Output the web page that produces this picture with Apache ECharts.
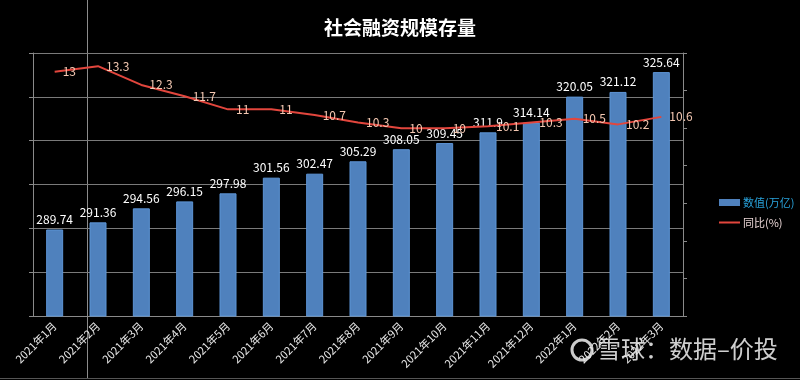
<!DOCTYPE html>
<html>
<head>
<meta charset="utf-8">
<script src="https://cdn.jsdelivr.net/npm/echarts@6/dist/echarts.min.js"></script>
<style>html,body{margin:0;padding:0;background:#000;}#c{width:800px;height:380px;}</style>
</head>
<body>
<div id="c"></div>
<script>
const categories = ['2021年1月','2021年2月','2021年3月','2021年4月','2021年5月','2021年6月','2021年7月','2021年8月','2021年9月','2021年10月','2021年11月','2021年12月','2022年1月','2022年2月','2022年3月'];
const stockValues = [289.74, 291.36, 294.56, 296.15, 297.98, 301.56, 302.47, 305.29, 308.05, 309.45, 311.9, 314.14, 320.05, 321.12, 325.64];
const yoyValues = [13, 13.3, 12.3, 11.7, 11, 11, 10.7, 10.3, 10, 10, 10.1, 10.3, 10.5, 10.2, 10.6];

const FONT = '"Noto Sans CJK SC", "Noto Sans", sans-serif';
const chart = echarts.init(document.getElementById('c'));
chart.setOption({
  backgroundColor: '#000',
  animation: false,
  textStyle: { fontFamily: FONT },
  title: {
    text: '社会融资规模存量', left: 'center', top: 13,
    textStyle: { color: '#fff', fontSize: 19, fontWeight: 'bold', fontFamily: FONT }
  },
  grid: { left: 33, right: 117, top: 53, bottom: 64 },
  legend: [
    { data: ['数值(万亿)'], orient: 'vertical', left: 714, top: 192, itemWidth: 21, itemHeight: 7, icon: 'rect', itemGap: 4,
      itemStyle: { borderWidth: 0 },
      textStyle: { color: '#29a3dc', fontSize: 11, fontFamily: FONT, padding: [0, 0, 0, -2] } },
    { data: ['同比(%)'], orient: 'vertical', left: 714, top: 212, itemWidth: 21, itemHeight: 2, icon: 'rect',
      textStyle: { color: '#ead6d6', fontSize: 11, fontFamily: FONT, padding: [0, 0, 0, -2] } }
  ],
  xAxis: {
    type: 'category', data: categories,
    axisLine: { lineStyle: { color: '#8a8a8a' } },
    axisTick: { length: 5, lineStyle: { color: '#8a8a8a' } },
    axisLabel: { rotate: 45, color: '#e8e8e8', fontSize: 11, margin: 8, interval: 0 }
  },
  yAxis: [
    { type: 'value', min: 270, max: 330, interval: 10,
      axisLine: { show: true, lineStyle: { color: '#8a8a8a' } },
      axisTick: { show: true, length: 4, lineStyle: { color: '#8a8a8a' } },
      axisLabel: { show: false },
      splitLine: { lineStyle: { color: '#7a7a7a' } } },
    { type: 'value', min: 0, max: 14, interval: 2, position: 'right',
      axisLine: { show: true, lineStyle: { color: '#8a8a8a' } },
      axisTick: { show: true, length: 4, lineStyle: { color: '#8a8a8a' } },
      axisLabel: { show: false },
      splitLine: { show: false } }
  ],
  series: [
    { name: '数值(万亿)', type: 'bar', data: stockValues, barWidth: 17,
      itemStyle: { color: '#4f81bd', borderColor: '#5d95d6', borderWidth: 1 },
      label: { show: true, position: 'top', color: '#ffffff', fontSize: 12, distance: 4 } },
    { name: '同比(%)', type: 'line', yAxisIndex: 1, data: yoyValues,
      symbol: 'circle', symbolSize: 0, showSymbol: true,
      lineStyle: { color: '#e2463d', width: 2 }, itemStyle: { color: '#e2463d' },
      label: { show: true, position: 'right', color: '#f4c8b2', fontSize: 12, distance: 8, offset: [0, 2] },
      labelLayout: { hideOverlap: false } }
  ],
  graphic: [
    { type: 'line', shape: { x1: 87.5, y1: 0, x2: 87.5, y2: 378 }, style: { stroke: '#8c8c8c', lineWidth: 1 }, silent: true },
    { type: 'line', shape: { x1: 0, y1: 378.5, x2: 800, y2: 378.5 }, style: { stroke: '#555', lineWidth: 1 }, silent: true },
    { type: 'circle', shape: { cx: 582, cy: 350, r: 10 }, style: { fill: 'none', stroke: 'rgba(225,225,225,0.9)', lineWidth: 3 }, silent: true },
    { type: 'text', left: 597, top: 337, silent: true,
      style: { text: '雪球：数据–价投', fill: 'rgba(225,225,225,0.92)', fontSize: 24, fontFamily: FONT } }
  ]
});
</script>
</body>
</html>
